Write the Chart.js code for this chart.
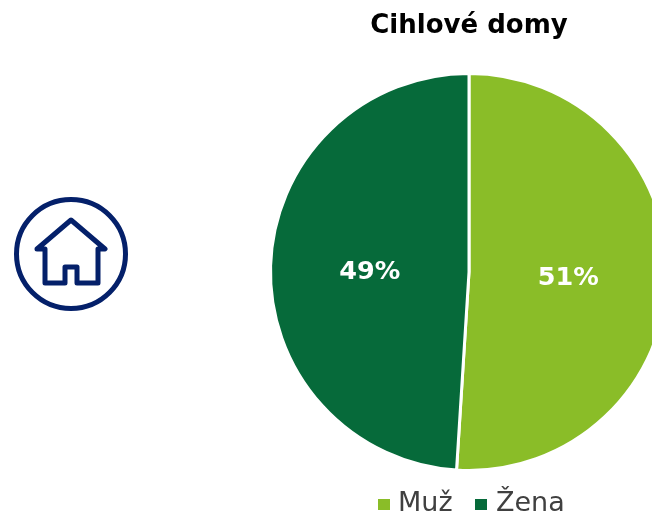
<!DOCTYPE html>
<html><head><meta charset="utf-8">
<style>html,body{margin:0;padding:0;background:#fff}#w{position:relative;width:652px;height:520px;overflow:hidden}canvas{position:absolute;left:0;top:0}</style>
<script src="https://cdn.jsdelivr.net/npm/chart.js@4"></script></head>
<body><div id="w"><canvas id="c" width="720" height="520" style="width:720px;height:520px"></canvas>
<svg style="position:absolute;left:0;top:0" width="652" height="520" fill="none" stroke="#04206a" stroke-width="5" stroke-linejoin="round" stroke-linecap="round">
<circle cx="71" cy="254" r="54.5"/>
<path d="M45 249 H37 L71 220 L105 249 H98 V283 H77 V267 H65 V283 H45 Z"/>
</svg></div>
<script>
const categories=['Muž','Žena'];
const values=[51,49];
const colors=['#8abd28','#066a3a'];
const titleText='Cihlové domy';
const labelPlugin={id:'lbl',afterDatasetsDraw(ch){const c=ch.ctx;const m=ch.getDatasetMeta(0);c.save();c.fillStyle='#fff';c.font='bold 25.5px "DejaVu Sans"';c.textAlign='center';c.textBaseline='middle';
m.data.forEach((a,i)=>{const p=a.getCenterPoint();c.fillText(values[i]+'%',p.x,p.y+3);});c.restore();}};
const titlePlugin={id:'ttl',afterDraw(ch){const c=ch.ctx;c.save();c.fillStyle='#000';c.font='bold 26px "DejaVu Sans"';c.textAlign='center';c.textBaseline='middle';c.fillText(titleText,469,26);
c.font='27px "DejaVu Sans"';c.fillStyle='#404040';c.textAlign='left';c.fillText(categories[0],398,504);c.fillText(categories[1],496,504);
c.fillStyle=colors[0];c.fillRect(378,499,12,11);c.fillStyle=colors[1];c.fillRect(475,499,12,11);c.restore();}};
new Chart(document.getElementById('c'),{type:'pie',data:{labels:categories,datasets:[{data:values,backgroundColor:colors,borderColor:'#fff',borderWidth:3}]},
options:{responsive:false,animation:false,layout:{padding:{left:269,right:51,top:72,bottom:48}},plugins:{legend:{display:false},tooltip:{enabled:false},title:{display:false}}},plugins:[labelPlugin,titlePlugin]});
</script></body></html>
